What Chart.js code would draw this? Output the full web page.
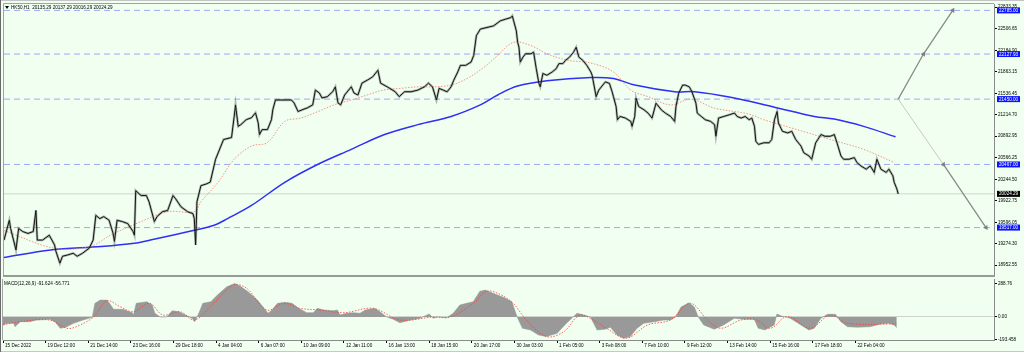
<!DOCTYPE html>
<html><head><meta charset="utf-8">
<script src="https://cdn.jsdelivr.net/npm/chart.js@4.4.1/dist/chart.umd.min.js"></script>
<style>
html,body{margin:0;padding:0;background:#f0fff0;}
#wrap{position:relative;width:1024px;height:352px;background:#f0fff0;overflow:hidden;box-shadow:inset 1px 0 0 #6a6a6a, inset 0 1px 0 #c4c4c4, inset 0 -1px 0 #c8c8c8;}
#c1{position:absolute;left:0;top:0;}
#c2{position:absolute;left:0;top:279px;}
</style></head><body>
<div id="wrap"><canvas id="c1" width="1024" height="279"></canvas><canvas id="c2" width="1024" height="73"></canvas></div>
<script>
// ---------- DATA (bar index = hourly bar counted from 15 Dec 2022) ----------
const symbolTitle = 'HK50,H1  20135.29 20137.29 20016.29 20024.29';
const macdTitle = 'MACD(12,26,9) -91.624 -56.771';
const timeLabels = ['15 Dec 2022','19 Dec 12:00','21 Dec 14:00','23 Dec 16:00','29 Dec 18:00','4 Jan 04:00','6 Jan 07:00','10 Jan 09:00','12 Jan 11:00','16 Jan 13:00','18 Jan 15:00','20 Jan 17:00','30 Jan 03:00','1 Feb 05:00','3 Feb 08:00','7 Feb 10:00','9 Feb 12:00','13 Feb 14:00','15 Feb 16:00','17 Feb 18:00','22 Feb 04:00'];
const labelStep = 32;
const priceTicks = [18952.55,19274.30,19596.05,19922.75,20244.50,20566.25,20892.95,21214.70,21536.45,21863.15,22184.90,22506.65,22833.35];
const macdTicks = [288.76, 0, -193.458];
const macdTickText = ['288.76','0.00','-193.458'];
const levelValues = [22785.00, 22127.93, 21450.00, 20467.00, 19517.00];
const lastPrice = 20024.29;

const priceBars = [0,4,5,9,11,14,18,22,24,25,29,34,38,39,42,44,48,52,55,59,64,67,69,72,75,79,82,83,85,89,93,97,98,99,103,107,109,112,113,115,119,123,127,129,133,138,142,143,144,145,148,152,155,159,163,165,171,173,174,176,178,182,186,189,191,192,194,198,201,202,204,208,212,216,218,221,224,228,232,234,237,239,243,247,249,251,253,256,261,263,266,269,273,277,281,283,288,294,297,301,306,311,316,319,322,325,327,330,333,336,338,341,343,347,351,353,355,358,363,368,373,377,381,382,383,385,386,387,388,390,392,396,398,400,402,403,405,408,412,415,417,420,422,425,428,430,432,435,438,441,442,445,447,450,452,455,457,458,460,461,463,467,471,472,474,475,477,481,484,487,490,494,497,501,504,505,507,510,512,515,517,520,521,524,527,531,534,535,537,541,545,549,551,554,557,560,562,564,565,567,571,575,577,579,581,582,585,589,592,595,599,601,605,607,610,614,617,621,624,626,629,631,635,639,641,644,648,651,654,656,659,663,665,668,669,671,672];
const priceClose = [19329,19627,19503,19180,19503,19458,19429,19458,19775,19329,19329,19403,19255,19161,18982,19086,19106,19131,19086,19131,19206,19329,19701,19652,19682,19627,19429,19310,19627,19607,19577,19458,19403,20073,19999,19999,19905,19682,19607,19682,19756,19775,19999,19950,19830,19756,19726,19652,19255,19905,20148,20173,20202,20545,20743,20842,20872,21189,21363,21040,21066,21140,21170,21244,21095,20917,20991,20991,21140,21289,21437,21437,21437,21437,21393,21263,21289,21318,21363,21586,21542,21467,21487,21561,21635,21393,21363,21512,21635,21542,21512,21690,21735,21784,21884,21690,21635,21561,21487,21561,21561,21586,21635,21690,21635,21437,21612,21586,21561,21635,21735,21859,21958,21958,22007,22107,22405,22504,22528,22553,22628,22653,22677,22702,22628,22479,22305,22231,22007,22082,22132,22132,22156,21909,21686,21635,21835,21809,21859,21909,21984,21984,22033,22082,22156,22231,22082,22033,21958,21859,21809,21487,21586,21661,21710,21686,21561,21487,21338,21140,21189,21165,21115,21040,21189,21463,21338,21289,21240,21165,21388,21289,21240,21189,21115,21338,21537,21661,21661,21635,21561,21388,21240,21189,21140,21115,21066,20891,21165,21189,21214,21240,21189,21165,21189,21140,21165,21040,20817,20768,20793,20793,20842,21140,21263,21091,20966,20941,20966,20842,20743,20644,20594,20545,20793,20917,20891,20891,20917,20793,20594,20545,20545,20570,20496,20445,20396,20445,20347,20545,20396,20347,20396,20296,20198,20099,20024.29];

const maSlowBars = [0,35,73,98,110,143,158,168,186,211,236,261,286,311,336,358,371,386,408,441,458,474,504,519,546,579,609,624,646,670];
const maSlow = [19067,19180,19231,19280,19329,19478,19552,19652,19850,20198,20470,20694,20917,21066,21189,21363,21512,21646,21725,21775,21760,21661,21561,21561,21478,21329,21189,21150,21040,20883];
const maFastBars = [0,38,65,80,103,123,143,148,161,173,186,198,211,223,236,248,261,273,285,298,311,323,336,348,361,371,383,396,408,424,441,458,471,484,501,516,534,559,571,596,621,646,669];
const maFast = [19473,19206,19235,19403,19607,19756,19756,19905,20202,20545,20743,20797,21115,21165,21263,21363,21437,21512,21586,21612,21635,21635,21661,21760,21933,22107,22305,22256,22132,22033,21993,21859,21586,21487,21363,21448,21314,21229,21140,20991,20842,20694,20496];

const arrowUpBars = [672, 691, 713];
const arrowUpPrices = [21450, 22127.93, 22785];
const arrowDownBars = [672, 706, 738];
const arrowDownPrices = [21450, 20467, 19517];

const macdBars = [0,3,8,9,13,20,25,35,39,43,47,53,60,67,69,73,78,80,83,90,97,98,100,108,112,114,118,123,127,132,137,142,144,147,150,156,161,168,174,178,184,191,196,199,202,206,212,217,222,228,233,236,241,248,251,253,258,263,268,272,279,283,288,293,298,306,313,320,323,326,333,338,343,348,353,358,362,368,376,382,386,390,396,402,408,416,423,431,436,441,446,452,456,461,466,471,476,481,489,496,501,505,509,515,519,522,526,534,541,549,556,564,567,572,579,581,585,591,597,605,609,614,619,625,629,634,641,651,659,665,669,671];
const macdHist = [-68,-54,-54,-83,-40,-40,-26,-20,-40,-97,-88,-54,-26,-3,117,145,145,117,66,66,37,17,117,131,103,32,0,0,54,45,17,-11,-40,32,117,131,188,259,288,265,216,145,74,32,60,117,126,117,74,37,37,74,60,54,60,17,32,37,32,60,74,45,0,-20,-49,-26,-11,26,-11,0,-6,32,103,117,131,220,231,203,168,131,0,-97,-111,-154,-168,-140,-54,32,17,0,-111,-105,-88,-154,-182,-168,-97,-54,-40,-26,-26,0,85,122,85,0,-68,-105,-68,-11,-20,-20,-97,-111,-68,26,6,-11,-54,-111,-97,-11,23,23,-40,-83,-88,-83,-60,-54,-68,-91.624];
const signalBars = [0,13,35,48,55,68,78,88,98,110,120,133,144,158,173,183,198,211,223,238,256,278,298,323,336,353,363,373,383,393,408,421,433,443,453,468,484,501,516,529,539,554,566,576,589,606,621,634,669,671];
const signalVals = [-68,-40,-26,-97,-83,0,139,88,45,117,17,45,-26,117,274,245,60,117,74,60,37,74,-26,0,0,117,220,195,117,-26,-168,-126,17,-26,-97,-182,-68,-26,117,-26,-97,-26,-26,-97,6,-97,17,-54,-60,-56.771];

// ---------- helpers / config ----------
const FONT = '"Liberation Sans", Arial, sans-serif';
const FS = 4.6;
const X_MIN = 0, X_MAX = 744;
const pts = (xs, ys) => xs.map((x, i) => ({x, y: ys[i]}));

const priceData = pts(priceBars, priceClose);

const levelSets = levelValues.map(v => ({
  type:'line', data:[{x:X_MIN,y:v},{x:X_MAX,y:v}], borderColor:'#9ea8f4', borderWidth:1,
  borderDash:[6,4], pointRadius:0, order:20
}));

const topPlugin = {
  id:'topOverlay',
  afterDraw(chart){
    const {ctx, chartArea:a} = chart; const y = chart.scales.y;
    ctx.save();
    ctx.strokeStyle = '#a0a4a0'; ctx.lineWidth = 1;
    ctx.beginPath(); ctx.moveTo(a.left-0.5, a.bottom); ctx.lineTo(a.left-0.5, a.top-0.5); ctx.lineTo(a.right, a.top-0.5); ctx.stroke();
    ctx.fillStyle = '#979b97'; ctx.fillRect(a.left-1, a.bottom, a.right-a.left+2, 2);
    ctx.font = FS + 'px ' + FONT; ctx.textBaseline = 'middle'; ctx.textAlign = 'left';
    levelValues.forEach(v => {
      const py = y.getPixelForValue(v);
      ctx.fillStyle = '#0a14ff'; ctx.fillRect(a.right+3, py-3, 23, 6);
      ctx.fillStyle = '#ffffff'; ctx.fillText(v.toFixed(2), a.right+5, py+0.3);
    });
    const pl = y.getPixelForValue(lastPrice);
    ctx.fillStyle = '#000000'; ctx.fillRect(a.right+3, pl-3, 23, 6);
    ctx.fillStyle = '#ffffff'; ctx.fillText(lastPrice.toFixed(2), a.right+5, pl+0.3);
    // title
    ctx.fillStyle = '#000';
    ctx.beginPath(); ctx.moveTo(a.left+1, a.top+2); ctx.lineTo(a.left+5, a.top+2); ctx.lineTo(a.left+3, a.top+5); ctx.closePath(); ctx.fill();
    ctx.fillText(symbolTitle, a.left+7, a.top+3.5);
    ctx.restore();
  }
};

new Chart(document.getElementById('c1'), {
  type:'line',
  data:{ datasets:[
    { data: pts(arrowUpBars, arrowUpPrices), borderColor:'#8a8a8a', borderWidth:1.3, pointRadius:[0,3,3], pointStyle:'triangle', pointRotation:31, pointBackgroundColor:'#808080', pointBorderWidth:0, order:0 },
    { data: pts(arrowDownBars, arrowDownPrices), borderColor:'#8a8a8a', borderWidth:1.3,
      segment:{ borderColor: c => c.p0DataIndex === 0 ? '#cacab6' : '#8a8a8a', borderWidth: c => c.p0DataIndex === 0 ? 1 : 1.3 },
      pointRadius:[0,3,3], pointStyle:'triangle', pointRotation:146, pointBackgroundColor:'#808080', pointBorderWidth:0, order:0 },
    { data: priceData, borderColor:'#141414', borderWidth:1, pointRadius:0, tension:0, order:1 },
    { data: priceData, borderColor:'rgba(80,80,80,0.42)', borderWidth:2.4, pointRadius:0, tension:0, order:2 },
    { data: pts(maSlowBars, maSlow), borderColor:'#2f2ff5', borderWidth:1.5, pointRadius:0, tension:0.35, order:4 },
    { data: pts(maFastBars, maFast), borderColor:'#f47a6a', borderWidth:0.8, borderDash:[1.5,1.5], pointRadius:0, tension:0.35, order:3 },
    { data:[{x:X_MIN,y:lastPrice},{x:X_MAX,y:lastPrice}], borderColor:'#cdd6cd', borderWidth:1, pointRadius:0, order:19 },
    ...levelSets
  ]},
  options:{
    responsive:false, animation:false, devicePixelRatio:1, events:[],
    layout:{ padding:{ left:3, top:3, right:0, bottom:2 } },
    plugins:{ legend:{display:false}, tooltip:{enabled:false} },
    scales:{
      x:{ type:'linear', min:X_MIN, max:X_MAX, display:false },
      y:{ type:'linear', position:'right', min:18803.7, max:22881,
        afterBuildTicks: s => { s.ticks = priceTicks.map(v => ({value:v})); },
        afterFit: s => { s.width = 30; s.paddingTop = 0; s.paddingBottom = 0; },
        ticks:{ autoSkip:false, color:'#000', padding:1, font:{family:FONT, size:FS}, callback: v => Number(v).toFixed(2) },
        grid:{ drawOnChartArea:false, tickLength:3, color:'#000', tickColor:'#000' },
        border:{ display:true, color:'#8a8a8a' }
      }
    }
  },
  plugins:[topPlugin]
});

const bottomPlugin = {
  id:'bottomOverlay',
  afterDraw(chart){
    const {ctx, chartArea:a} = chart;
    ctx.save();
    ctx.strokeStyle = '#a0a4a0'; ctx.lineWidth = 1;
    ctx.beginPath(); ctx.moveTo(a.left-0.5, a.top); ctx.lineTo(a.left-0.5, a.bottom); ctx.stroke();
    ctx.font = FS + 'px ' + FONT; ctx.textBaseline = 'middle'; ctx.textAlign = 'left'; ctx.fillStyle = '#000';
    ctx.fillText(macdTitle, a.left+1, a.top+5);
    ctx.restore();
  }
};

new Chart(document.getElementById('c2'), {
  type:'line',
  data:{ datasets:[
    { data: pts(signalBars, signalVals), borderColor:'#ff3b2f', borderWidth:0.8, borderDash:[1.5,1.5], pointRadius:0, tension:0.35, order:1 },
    { data: pts(macdBars, macdHist), borderColor:'#959595', borderWidth:0.5, backgroundColor:'#999999', fill:'origin', pointRadius:0, tension:0, order:2 }
  ]},
  options:{
    responsive:false, animation:false, devicePixelRatio:1, events:[],
    layout:{ padding:{ left:3, top:0, right:0, bottom:0 } },
    plugins:{ legend:{display:false}, tooltip:{enabled:false} },
    scales:{
      x:{ type:'linear', position:'bottom', min:X_MIN, max:X_MAX,
        afterBuildTicks: s => { s.ticks = timeLabels.map((t, i) => ({value: i * labelStep})); },
        afterFit: s => { s.height = 12; s.paddingLeft = 0; s.paddingRight = 0; },
        ticks:{ autoSkip:false, maxRotation:0, minRotation:0, align:'start', labelOffset:2, padding:0, color:'#000', font:{family:FONT, size:FS}, callback:(v, i) => timeLabels[i] },
        grid:{ drawOnChartArea:false, tickLength:3, color:'#000', tickColor:'#000' },
        border:{ display:true, color:'#8a8a8a' }
      },
      y:{ type:'linear', position:'right', min:-197.4, max:326,
        afterBuildTicks: s => { s.ticks = macdTicks.map(v => ({value:v})); },
        afterFit: s => { s.width = 30; s.paddingTop = 0; s.paddingBottom = 0; },
        ticks:{ autoSkip:false, color:'#000', padding:1, font:{family:FONT, size:FS}, callback:(v, i) => macdTickText[i] },
        grid:{ drawOnChartArea:true, tickLength:3, tickColor:'#000', color: c => (c.tick && c.tick.value === 0) ? '#cdd5cd' : 'rgba(0,0,0,0)' },
        border:{ display:true, color:'#8a8a8a' }
      }
    }
  },
  plugins:[bottomPlugin]
});
</script>
</body></html>
